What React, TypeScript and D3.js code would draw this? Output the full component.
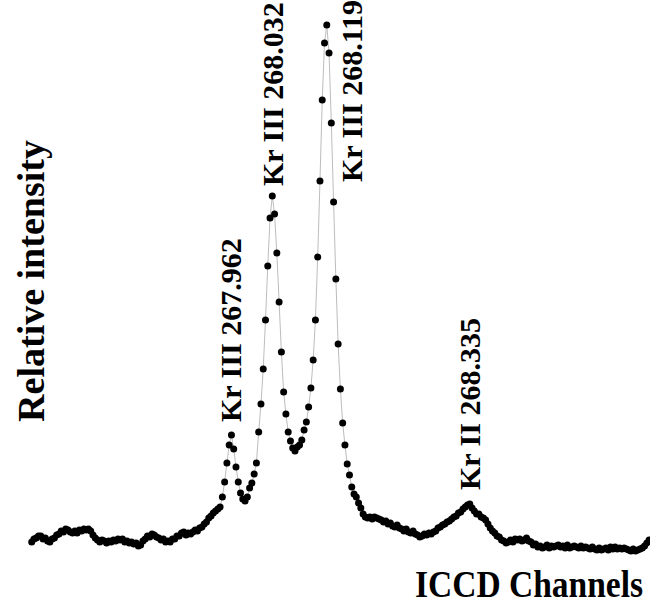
import React from 'react';
import * as d3 from 'd3';

// intensity per ICCD channel (arbitrary units), channels 0..272
const intensity = [
  18, 21, 22, 24, 24, 21, 22, 19, 18, 21, 22, 25, 26, 29, 28, 31, 30, 28, 27, 29,
  27, 30, 29, 31, 30, 31, 29, 25, 22, 20, 18, 20, 19, 17, 19, 18, 20, 19, 21, 20,
  21, 18, 19, 17, 18, 16, 17, 14, 15, 19, 21, 24, 23, 26, 25, 23, 22, 20, 21, 18,
  19, 18, 21, 21, 24, 24, 27, 28, 25, 27, 26, 28, 30, 29, 32, 33, 36, 38, 42, 44,
  47, 49, 51, 53, 63, 78, 97, 115, 125, 111, 93, 78, 67, 61, 59, 63, 72, 77, 86, 97,
  128, 156, 191, 240, 294, 342, 364, 346, 307, 258, 208, 168, 146, 128, 119, 112, 109, 113, 115, 120,
  130, 138, 153, 172, 200, 240, 303, 379, 460, 517, 535, 507, 437, 358, 281, 216, 171, 137, 115, 96,
  85, 73, 66, 63, 57, 52, 46, 43, 42, 43, 41, 43, 42, 41, 40, 38, 39, 36, 37, 34,
  33, 35, 32, 31, 29, 31, 28, 27, 29, 26, 25, 23, 24, 26, 25, 27, 26, 28, 29, 32,
  33, 35, 36, 38, 39, 41, 43, 44, 47, 48, 51, 53, 55, 56, 52, 49, 46, 46, 43, 42,
  40, 36, 32, 29, 27, 24, 23, 20, 19, 17, 18, 20, 18, 21, 20, 21, 19, 20, 22, 19,
  18, 15, 16, 13, 14, 12, 13, 15, 12, 14, 13, 14, 15, 13, 14, 12, 15, 12, 13, 14,
  13, 12, 14, 12, 13, 12, 11, 13, 11, 10, 12, 10, 11, 12, 10, 13, 11, 13, 11, 12,
  11, 12, 11, 10, 9, 11, 9, 10, 11, 12, 14, 17, 20,
];

const lineLabels = ['Kr III 267.962', 'Kr III 268.032', 'Kr III 268.119', 'Kr II 268.335'];
const lineChannels = [88, 106, 130, 193];
const labelStartValues = [138, 374, 378, 70];
const labelOffsets = [10, 11, 35, 10];

const xTitle = 'ICCD Channels';
const yTitle = 'Relative intensity';

const W = 650;
const H = 605;

export default function App() {
  const x = d3.scaleLinear().domain([0, intensity.length - 1]).range([31.7, 649.1]);
  const y = d3.scaleLinear().domain([0, 540]).range([560, 20]);

  const line = d3
    .line<number>()
    .x((d, i) => x(i))
    .y((d) => y(d));

  const font = '"Liberation Serif", "Times New Roman", serif';

  return (
    <svg
      width={W}
      height={H}
      style={{ position: 'absolute', left: 0, top: 0, background: '#fff' }}
    >
      <path d={line(intensity) || ''} fill="none" stroke="#bdbdbd" strokeWidth={1} />
      {intensity.map((d, i) => (
        <circle key={i} cx={x(i)} cy={y(d)} r={3.5} fill="#000" />
      ))}

      {lineLabels.map((t, i) => (
        <text
          key={t}
          transform={`translate(${x(lineChannels[i]) + labelOffsets[i]},${y(labelStartValues[i])}) rotate(-90)`}
          fontFamily={font}
          fontWeight="bold"
          fontSize={30}
          textAnchor="start"
          fill="#000"
        >
          {t}
        </text>
      ))}

      <text
        transform="translate(44,281) rotate(-90)"
        fontFamily={font}
        fontWeight="bold"
        fontSize={38}
        textAnchor="middle"
        fill="#000"
      >
        {yTitle}
      </text>
      <text
        transform="translate(415,597) scale(1,1.13)"
        fontFamily={font}
        fontWeight="bold"
        fontSize={33.5}
        fill="#000"
      >
        {xTitle}
      </text>
    </svg>
  );
}
